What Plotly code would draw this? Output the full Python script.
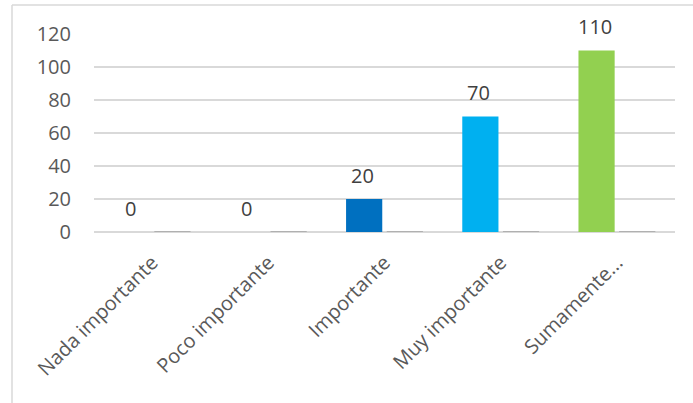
import plotly.graph_objects as go

categories = ["Nada importante", "Poco importante", "Importante", "Muy importante", "Sumamente..."]
respuestas = [0, 0, 20, 70, 110]
serie_secundaria = [0, 0, 0, 0, 0]
bar_colors = ["#0070C0", "#0070C0", "#0070C0", "#00B0F0", "#92D050"]
y_ticks = [0, 20, 40, 60, 80, 100, 120]

W, H = 693, 403
L, R, T, B = 94, 18, 34, 171
pw, ph = W - L - R, H - T - B

font_family = "Open Sans, Noto Sans, sans-serif"
text_color = "#595959"
grid_color = "#D9D9D9"
fsize = 20

fig = go.Figure()
fig.add_trace(go.Bar(
    x=categories, y=respuestas, marker=dict(color=bar_colors, line=dict(width=0)),
    showlegend=False, hoverinfo="x+y",
))
fig.add_trace(go.Bar(
    x=categories, y=serie_secundaria,
    marker=dict(color="#B0B0B0", line=dict(color="#B0B0B0", width=2)),
    showlegend=False, hoverinfo="x+y",
))

# value labels above the first series
for cat, val in zip(categories, respuestas):
    fig.add_annotation(
        x=cat, y=val, text=str(val), showarrow=False,
        xshift=-22, yshift=24, yanchor="middle",
        font=dict(family=font_family, size=fsize, color="#404040"),
    )

# chart frame
def px_x(p):
    return (p - L) / pw

def px_y(p):
    return (H - B - p) / ph

frame = dict(color=grid_color, width=1.5)
fig.add_shape(type="line", xref="paper", yref="paper",
              x0=px_x(12), x1=px_x(12), y0=px_y(5), y1=px_y(H + 5), line=frame)
fig.add_shape(type="line", xref="paper", yref="paper",
              x0=px_x(12), x1=px_x(W + 5), y0=px_y(5), y1=px_y(5), line=frame)

fig.update_layout(
    width=W, height=H,
    margin=dict(l=L, r=R, t=T, b=B),
    paper_bgcolor="white", plot_bgcolor="white",
    barmode="group", bargap=0.30, bargroupgap=0.11,
    font=dict(family=font_family, size=fsize, color=text_color),
)
fig.update_yaxes(
    range=[0, 120], tickvals=y_ticks, showgrid=True, gridcolor=grid_color, gridwidth=1.5,
    zeroline=True, zerolinecolor=grid_color, zerolinewidth=1.5,
    showline=False, ticks="", ticklabelstandoff=22,
    tickfont=dict(family=font_family, size=fsize, color=text_color),
)
fig.update_xaxes(
    tickangle=-45, showline=False, ticks="", showgrid=False,
    ticklabelstandoff=14,
    tickfont=dict(family=font_family, size=fsize, color=text_color),
)

fig.write_html("out.html")
